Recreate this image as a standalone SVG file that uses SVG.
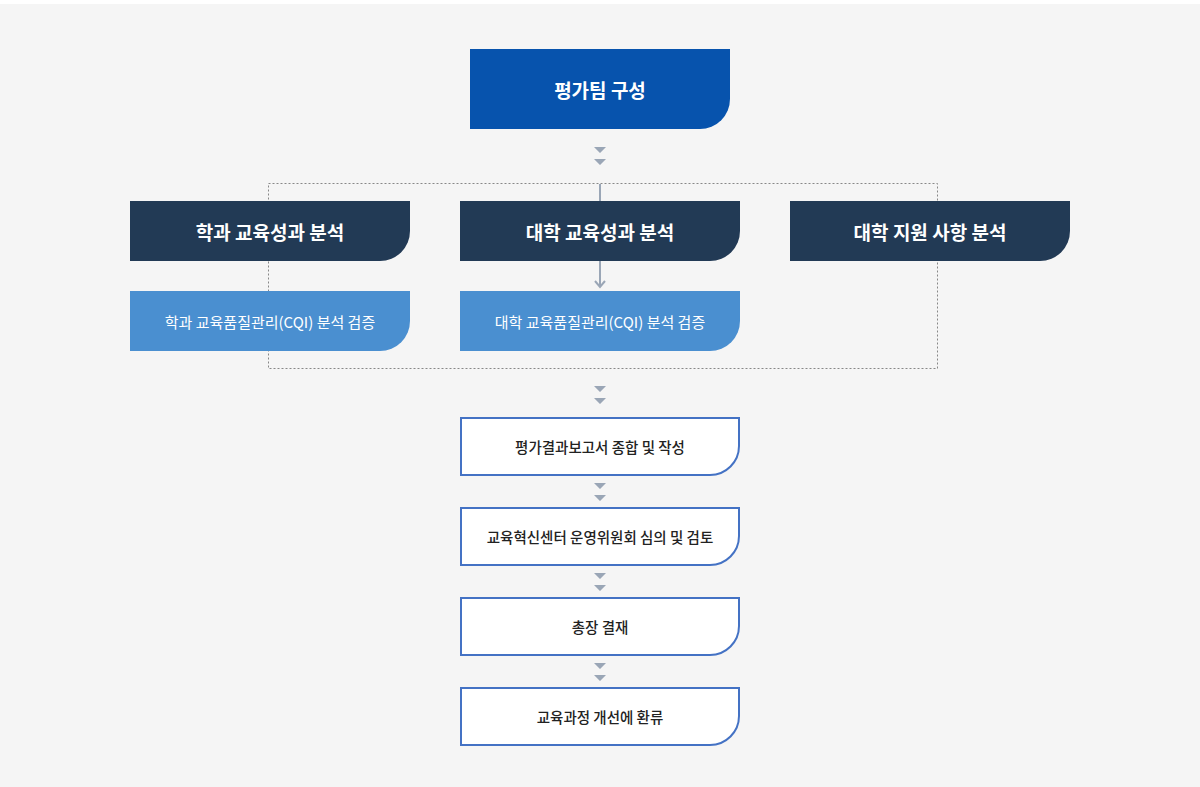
<svg xmlns="http://www.w3.org/2000/svg" width="1200" height="787" viewBox="0 0 1200 787">
<style>
text{font-family:"Noto Sans CJK KR","Noto Sans",sans-serif;text-anchor:middle;dominant-baseline:central}
.t1{fill:#fff;font-size:19px;font-weight:bold}
.t2{fill:#fff;font-size:15px}
.t3{fill:#222;font-size:14.5px;font-weight:500}
.dk{fill:#223a55}
.lt{fill:#4a8fd0}
.wb{fill:#fff;stroke:#4472c4;stroke-width:2}
.tri{fill:#9aa6b6}
</style>
<rect width="1200" height="787" fill="#fff"/>
<rect y="4" width="1200" height="783" fill="#f5f5f5"/>
<g id="connectors">
<rect x="268.5" y="183.5" width="669" height="185" fill="none" stroke="#888" stroke-width="1" stroke-dasharray="2,2"/>
<line x1="600" y1="184" x2="600" y2="201" stroke="#9aa6b6" stroke-width="2"/>
<line x1="600" y1="261" x2="600" y2="287" stroke="#9aa6b6" stroke-width="2"/>
<path d="M595 281 L600 287 L605 281" fill="none" stroke="#9aa6b6" stroke-width="2"/>
<g class="tri">
<path d="M594 147h12l-6 6z M594 159h12l-6 6z"/>
<path d="M594 386h12l-6 6z M594 398h12l-6 6z"/>
<path d="M594 483h12l-6 6z M594 495h12l-6 6z"/>
<path d="M594 573h12l-6 6z M594 585h12l-6 6z"/>
<path d="M594 663h12l-6 6z M594 675h12l-6 6z"/>
</g>
</g>
<g id="n1"><path d="M470 49H730V99A30 30 0 0 1 700 129H470Z" fill="#0753ad"/><text class="t1" x="600" y="89">평가팀 구성</text></g>
<g id="n2"><path class="dk" d="M130 201H410V231A30 30 0 0 1 380 261H130Z"/><text class="t1" x="270" y="231">학과 교육성과 분석</text></g>
<g id="n3"><path class="dk" d="M460 201H740V231A30 30 0 0 1 710 261H460Z"/><text class="t1" x="600" y="231">대학 교육성과 분석</text></g>
<g id="n4"><path class="dk" d="M790 201H1070V231A30 30 0 0 1 1040 261H790Z"/><text class="t1" x="930" y="231">대학 지원 사항 분석</text></g>
<g id="n5"><path class="lt" d="M130 291H410V321A30 30 0 0 1 380 351H130Z"/><text class="t2" x="270" y="321">학과 교육품질관리(CQI) 분석 검증</text></g>
<g id="n6"><path class="lt" d="M460 291H740V321A30 30 0 0 1 710 351H460Z"/><text class="t2" x="600" y="321">대학 교육품질관리(CQI) 분석 검증</text></g>
<g id="n7"><path class="wb" d="M461 418H739V446A29 29 0 0 1 710 475H461Z"/><text class="t3" x="600" y="446">평가결과보고서 종합 및 작성</text></g>
<g id="n8"><path class="wb" d="M461 508H739V536A29 29 0 0 1 710 565H461Z"/><text class="t3" x="600" y="536">교육혁신센터 운영위원회 심의 및 검토</text></g>
<g id="n9"><path class="wb" d="M461 598H739V626A29 29 0 0 1 710 655H461Z"/><text class="t3" x="600" y="626">총장 결재</text></g>
<g id="n10"><path class="wb" d="M461 688H739V716A29 29 0 0 1 710 745H461Z"/><text class="t3" x="600" y="716">교육과정 개선에 환류</text></g>
</svg>
